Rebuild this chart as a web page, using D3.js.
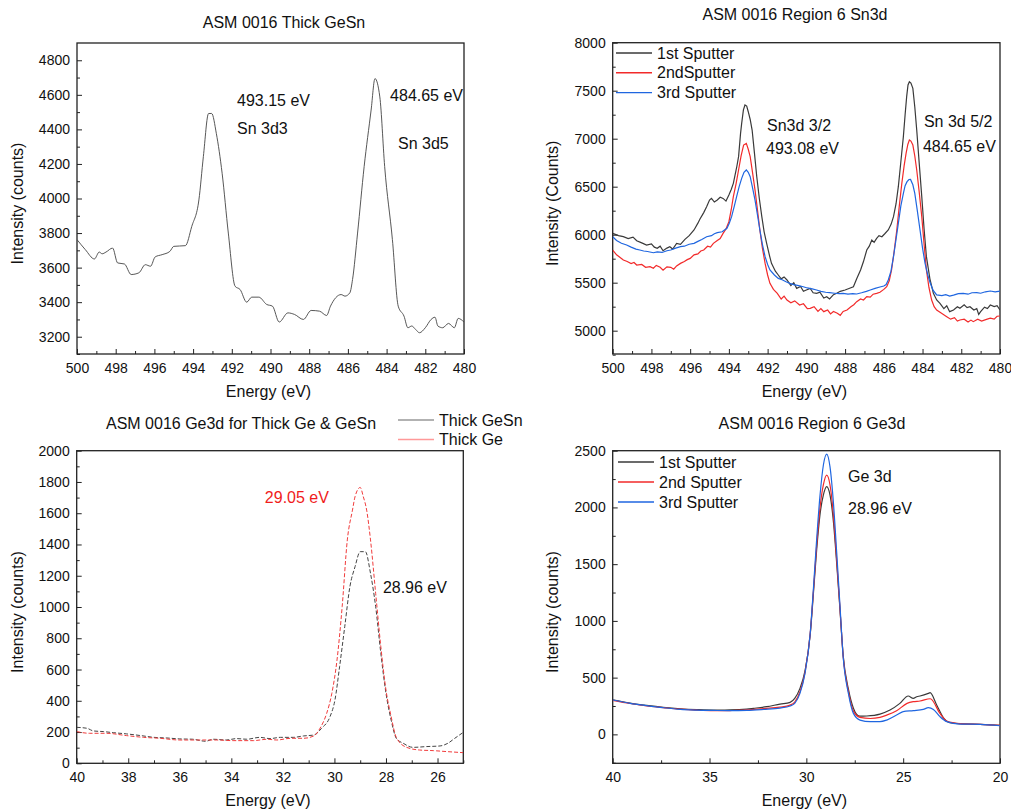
<!DOCTYPE html>
<html>
  <head>
    <title>ASM 0016 XPS spectra</title>
    <script src="https://d3js.org/d3.v7.min.js"></script>
    <style>
      body { margin: 0; background: #fff; }
      svg text { font-family: "Liberation Sans", Arial, sans-serif; }
      .tick text { font-size: 14px; }
      .axis path, .axis line { stroke: #222; }
    </style>
  </head>
  <body>
    <div id="chart"></div>
    <script>
      // ---- data: panel 1 (Thick GeSn, Sn3d) ----
      var gesnE = [500, 499.57, 499.1, 498.85, 498.7, 498.5, 498.16, 497.9, 497.55, 497.2, 496.8, 496.47, 496.2, 495.96, 495.6, 495.2, 495.0, 494.4, 494.07, 493.7, 493.47, 493.2, 493.04, 492.8, 492.5, 492.18, 491.83, 491.57, 491.23, 490.97, 490.6, 490.2, 489.9, 489.55, 489.1, 488.76, 488.3, 487.9, 487.47, 487.1, 486.9, 486.35, 486.15, 485.9, 485.76, 485.5, 485.16, 484.8, 484.6, 484.35, 484.1, 483.7, 483.4, 483.1, 482.9, 482.7, 482.5, 482.3, 482.0, 481.7, 481.5, 481.35, 481.1, 480.8, 480.5, 480.3, 480.0];
      var gesnI = [3762, 3704, 3650, 3690, 3680, 3690, 3713, 3627, 3621, 3560, 3570, 3617, 3608, 3662, 3675, 3694, 3723, 3727, 3838, 3992, 4242, 4492, 4492, 4377, 4146, 3800, 3492, 3473, 3400, 3429, 3429, 3387, 3377, 3285, 3338, 3329, 3300, 3352, 3348, 3323, 3377, 3444, 3435, 3454, 3531, 3800, 4185, 4512, 4694, 4588, 4185, 3762, 3377, 3319, 3252, 3262, 3242, 3223, 3252, 3300, 3313, 3262, 3252, 3277, 3252, 3306, 3285];

      // ---- data: panel 2 (Region 6 Sn3d) ----
      var sn1E = [500.0, 499.7, 499.45, 499.2, 498.95, 498.76, 498.5, 498.25, 498.0, 497.85, 497.7, 497.55, 497.4, 497.2, 497.05, 496.9, 496.7, 496.5, 496.27, 496.05, 495.8, 495.6, 495.5, 495.3, 495.15, 495.0, 494.9, 494.75, 494.6, 494.45, 494.3, 494.15, 494.0, 493.88, 493.77, 493.6, 493.5, 493.4, 493.34, 493.25, 493.17, 493.08, 493.0, 492.9, 492.8, 492.68, 492.56, 492.43, 492.3, 492.18, 492.05, 491.9, 491.8, 491.6, 491.45, 491.3, 491.15, 491.0, 490.8, 490.65, 490.5, 490.3, 490.15, 490.0, 489.8, 489.65, 489.47, 489.3, 489.1, 488.95, 488.8, 488.6, 488.43, 488.25, 488.0, 487.8, 487.57, 487.4, 487.2, 487.05, 486.88, 486.75, 486.62, 486.5, 486.37, 486.25, 486.1, 485.95, 485.77, 485.62, 485.5, 485.37, 485.25, 485.12, 484.99, 484.9, 484.82, 484.75, 484.68, 484.6, 484.5, 484.4, 484.3, 484.17, 484.04, 483.92, 483.8, 483.62, 483.44, 483.27, 483.1, 482.9, 482.75, 482.6, 482.4, 482.2, 482.07, 481.85, 481.7, 481.55, 481.35, 481.2, 481.1, 481.0, 480.8, 480.65, 480.5, 480.3, 480.15, 480.0];
      var sn1I = [6014, 5990, 5979, 5960, 5975, 5937, 5915, 5892, 5905, 5870, 5858, 5880, 5833, 5860, 5875, 5850, 5910, 5900, 5951, 5990, 6049, 6120, 6160, 6230, 6292, 6360, 6378, 6340, 6361, 6390, 6378, 6350, 6413, 6470, 6535, 6700, 6813, 7050, 7160, 7300, 7351, 7340, 7281, 7200, 7090, 6850, 6604, 6380, 6188, 6030, 5910, 5780, 5701, 5620, 5580, 5540, 5560, 5528, 5470, 5500, 5441, 5460, 5410, 5424, 5440, 5395, 5389, 5400, 5340, 5354, 5330, 5375, 5389, 5410, 5424, 5440, 5458, 5540, 5632, 5720, 5840, 5880, 5944, 5920, 5962, 5990, 5979, 6010, 6049, 6110, 6188, 6320, 6500, 6760, 7021, 7250, 7438, 7560, 7594, 7580, 7524, 7330, 7090, 6740, 6396, 6060, 5771, 5540, 5389, 5320, 5285, 5230, 5260, 5198, 5215, 5250, 5233, 5270, 5240, 5250, 5215, 5230, 5170, 5198, 5245, 5230, 5267, 5250, 5260, 5215];

      var sn2E = [500.0, 499.8, 499.6, 499.45, 499.25, 499.05, 498.9, 498.76, 498.5, 498.3, 498.07, 497.9, 497.75, 497.55, 497.4, 497.2, 497.0, 496.85, 496.7, 496.5, 496.3, 496.15, 496.0, 495.8, 495.6, 495.45, 495.3, 495.1, 494.95, 494.8, 494.6, 494.45, 494.3, 494.15, 494.0, 493.88, 493.77, 493.63, 493.5, 493.37, 493.24, 493.1, 493.0, 492.9, 492.78, 492.65, 492.52, 492.4, 492.27, 492.13, 492.0, 491.88, 491.7, 491.5, 491.3, 491.15, 491.0, 490.8, 490.6, 490.35, 490.15, 489.95, 489.8, 489.6, 489.4, 489.25, 489.1, 488.9, 488.75, 488.6, 488.4, 488.25, 488.1, 487.9, 487.7, 487.55, 487.4, 487.2, 487.05, 486.88, 486.7, 486.55, 486.37, 486.2, 486.0, 485.85, 485.72, 485.6, 485.47, 485.33, 485.2, 485.07, 484.95, 484.85, 484.76, 484.68, 484.6, 484.5, 484.4, 484.3, 484.17, 484.04, 483.92, 483.8, 483.67, 483.53, 483.4, 483.27, 483.0, 482.75, 482.55, 482.35, 482.2, 482.07, 481.85, 481.65, 481.5, 481.38, 481.15, 480.95, 480.7, 480.5, 480.3, 480.15, 480.0];
      var sn2I = [5840, 5790, 5760, 5736, 5720, 5700, 5710, 5684, 5690, 5660, 5667, 5650, 5680, 5660, 5630, 5665, 5660, 5640, 5675, 5701, 5720, 5740, 5753, 5790, 5800, 5830, 5840, 5880, 5870, 5910, 5940, 5960, 6014, 6060, 6135, 6260, 6396, 6530, 6674, 6820, 6934, 6951, 6890, 6813, 6650, 6465, 6250, 6049, 5860, 5701, 5580, 5493, 5430, 5389, 5330, 5360, 5319, 5290, 5310, 5267, 5280, 5230, 5233, 5250, 5200, 5230, 5198, 5215, 5175, 5200, 5181, 5160, 5200, 5215, 5250, 5270, 5302, 5330, 5320, 5354, 5350, 5380, 5389, 5400, 5430, 5458, 5520, 5632, 5820, 6049, 6300, 6535, 6720, 6847, 6940, 6986, 6975, 6934, 6820, 6674, 6440, 6188, 5900, 5632, 5450, 5319, 5250, 5215, 5180, 5146, 5120, 5135, 5100, 5111, 5120, 5090, 5110, 5094, 5120, 5100, 5118, 5130, 5120, 5150, 5153];

      var sn3E = [500.0, 499.8, 499.55, 499.28, 499.05, 498.8, 498.6, 498.4, 498.2, 497.9, 497.7, 497.45, 497.2, 497.0, 496.75, 496.5, 496.3, 496.05, 495.8, 495.6, 495.4, 495.15, 494.9, 494.75, 494.6, 494.35, 494.1, 493.98, 493.86, 493.73, 493.6, 493.47, 493.34, 493.22, 493.1, 493.0, 492.9, 492.78, 492.65, 492.52, 492.4, 492.27, 492.13, 492.0, 491.88, 491.65, 491.45, 491.25, 491.05, 490.85, 490.65, 490.4, 490.16, 489.95, 489.7, 489.47, 489.25, 489.0, 488.8, 488.55, 488.3, 488.1, 487.85, 487.6, 487.4, 487.15, 486.9, 486.7, 486.45, 486.2, 486.0, 485.88, 485.77, 485.63, 485.5, 485.37, 485.25, 485.12, 484.99, 484.9, 484.8, 484.7, 484.62, 484.5, 484.4, 484.27, 484.13, 484.0, 483.87, 483.73, 483.6, 483.45, 483.27, 483.0, 482.8, 482.6, 482.4, 482.15, 481.9, 481.65, 481.45, 481.2, 481.0, 480.75, 480.5, 480.25, 480.0];
      var sn3I = [5979, 5940, 5910, 5892, 5870, 5850, 5840, 5830, 5825, 5812, 5820, 5815, 5833, 5840, 5860, 5875, 5880, 5900, 5910, 5930, 5950, 5979, 5990, 6010, 6021, 6030, 6066, 6120, 6188, 6290, 6396, 6500, 6587, 6650, 6674, 6650, 6604, 6490, 6361, 6200, 6049, 5900, 5771, 5690, 5632, 5580, 5545, 5530, 5510, 5493, 5480, 5470, 5458, 5445, 5435, 5424, 5410, 5400, 5396, 5390, 5385, 5389, 5380, 5385, 5382, 5395, 5410, 5424, 5440, 5455, 5465, 5480, 5528, 5620, 5771, 5950, 6118, 6300, 6431, 6510, 6552, 6575, 6576, 6520, 6431, 6250, 6049, 5860, 5701, 5580, 5493, 5420, 5372, 5365, 5375, 5360, 5370, 5385, 5389, 5380, 5395, 5396, 5390, 5405, 5413, 5405, 5413];

      // ---- data: panel 3 (Ge3d, thick Ge vs GeSn) ----
      var geSnE = [40, 39.6, 39.35, 38.97, 38.58, 38.06, 37.5, 37.0, 36.5, 36.0, 35.5, 35.0, 34.7, 34.2, 33.8, 33.4, 32.9, 32.5, 32.1, 31.6, 31.2, 30.8, 30.5, 30.17, 29.98, 29.8, 29.6, 29.4, 29.2, 29.0, 28.8, 28.6, 28.4, 28.2, 28.0, 27.8, 27.6, 27.33, 26.95, 26.43, 25.9, 25.6, 25.33, 25.0];
      var geSnI = [230, 224, 207, 203, 196, 188, 177, 166, 162, 156, 154, 141, 154, 149, 158, 154, 166, 158, 166, 166, 175, 181, 224, 299, 405, 618, 874, 1130, 1258, 1354, 1354, 1215, 1002, 704, 448, 277, 160, 128, 102, 107, 111, 128, 160, 198];
      var geE = [40, 39.5, 38.84, 38.06, 37.4, 36.77, 36.0, 35.2, 34.57, 33.9, 33.15, 32.6, 32.24, 31.7, 31.2, 30.8, 30.56, 30.3, 30.1, 29.9, 29.7, 29.5, 29.3, 29.2, 29.0, 28.88, 28.75, 28.6, 28.4, 28.2, 28.0, 27.8, 27.6, 27.2, 26.7, 26.16, 25.65, 25.0];
      var geI = [203, 192, 192, 177, 166, 160, 149, 149, 149, 145, 145, 154, 149, 160, 160, 175, 224, 320, 448, 661, 1002, 1429, 1620, 1706, 1765, 1706, 1620, 1429, 1087, 746, 469, 299, 166, 102, 85, 81, 75, 68];

      // ---- data: panel 4 (Region 6 Ge3d) ----
      var ge1E = [40, 39.1, 38.25, 37.4, 36.5, 35.66, 34.8, 33.94, 33.08, 32.73, 32.05, 31.36, 30.84, 30.6, 30.33, 30.07, 29.8, 29.64, 29.47, 29.3, 29.12, 28.95, 28.78, 28.6, 28.43, 28.26, 28.1, 27.83, 27.57, 27.4, 27.23, 26.88, 26.2, 25.68, 25.17, 24.74, 24.48, 24.3, 24.13, 23.7, 23.61, 23.27, 22.9, 22.6, 22.06, 21.03, 20.0];
      var ge1I = [305, 275, 255, 238, 225, 218, 214, 215, 222, 229, 244, 267, 282, 317, 405, 560, 880, 1230, 1620, 1930, 2110, 2183, 2110, 1870, 1500, 1090, 700, 400, 230, 175, 160, 162, 179, 214, 273, 338, 317, 332, 338, 361, 367, 259, 141, 103, 94, 88, 80];
      var ge2E = [40, 39.1, 38.25, 37.4, 36.5, 35.66, 34.8, 33.94, 33.08, 32.2, 31.36, 30.84, 30.6, 30.33, 30.07, 29.8, 29.64, 29.47, 29.3, 29.12, 28.95, 28.78, 28.6, 28.43, 28.26, 28.1, 27.83, 27.57, 27.23, 26.7, 26.2, 25.85, 25.34, 24.8, 24.48, 24.13, 23.6, 23.1, 22.75, 22.06, 21.03, 20.0];
      var ge2I = [300, 272, 250, 236, 222, 213, 208, 210, 215, 228, 240, 258, 285, 375, 545, 890, 1250, 1660, 1990, 2200, 2285, 2200, 1930, 1530, 1100, 690, 380, 205, 150, 140, 150, 170, 208, 273, 288, 294, 314, 185, 118, 95, 88, 80];
      var ge3E = [40, 39.1, 38.25, 37.4, 36.5, 35.66, 34.8, 33.94, 33.08, 32.2, 31.36, 30.84, 30.6, 30.33, 30.07, 29.8, 29.64, 29.47, 29.3, 29.12, 28.95, 28.78, 28.6, 28.43, 28.26, 28.1, 27.83, 27.57, 27.23, 26.7, 26.2, 25.85, 25.34, 25.0, 24.48, 23.96, 23.7, 23.44, 23.1, 22.75, 22.06, 21.03, 20.0];
      var ge3I = [303, 273, 253, 235, 220, 214, 211, 209, 211, 220, 232, 250, 273, 361, 538, 890, 1272, 1713, 2095, 2374, 2470, 2359, 2036, 1595, 1125, 684, 361, 185, 126, 112, 112, 126, 170, 200, 209, 220, 235, 220, 156, 112, 91, 88, 76];

      var svg = d3.select("#chart").append("svg")
        .attr("width", 1011)
        .attr("height", 809);

      function zip(xs, ys) {
        return xs.map(function(x, i) { return { x: x, y: ys[i] }; });
      }

      // draw one framed panel
      function panel(cfg) {
        var b = cfg.box;
        var x = d3.scaleLinear().domain(cfg.xDomain).range([b[0], b[2]]);
        var y = d3.scaleLinear().domain(cfg.yDomain).range([b[3], b[1]]);
        var g = svg.append("g");

        // minor ticks
        g.append("g").attr("class", "axis").attr("transform", "translate(0," + b[3] + ")")
          .call(d3.axisBottom(x).tickValues(cfg.xMinor).tickSize(-3).tickFormat(""))
          .select(".domain").remove();
        g.append("g").attr("class", "axis").attr("transform", "translate(" + b[0] + ",0)")
          .call(d3.axisLeft(y).tickValues(cfg.yMinor).tickSize(-3).tickFormat(""))
          .select(".domain").remove();

        // major ticks
        g.append("g").attr("class", "axis").attr("transform", "translate(0," + b[3] + ")")
          .call(d3.axisBottom(x).tickValues(cfg.xTicks).tickSize(-5).tickPadding(9).tickFormat(d3.format("d")))
          .select(".domain").remove();
        g.append("g").attr("class", "axis").attr("transform", "translate(" + b[0] + ",0)")
          .call(d3.axisLeft(y).tickValues(cfg.yTicks).tickSize(-5).tickPadding(7).tickFormat(d3.format("d")))
          .select(".domain").remove();

        g.selectAll(".tick text").attr("fill", "#111");

        // frame
        g.append("rect")
          .attr("x", b[0]).attr("y", b[1])
          .attr("width", b[2] - b[0]).attr("height", b[3] - b[1])
          .attr("fill", "none").attr("stroke", "#222").attr("stroke-width", 1.3);

        var clipId = "clip" + cfg.id;
        svg.append("clipPath").attr("id", clipId).append("rect")
          .attr("x", b[0]).attr("y", b[1]).attr("width", b[2] - b[0]).attr("height", b[3] - b[1]);

        var line = d3.line()
          .x(function(d) { return x(d.x); })
          .y(function(d) { return y(d.y); })
          .curve(cfg.curve || d3.curveLinear);

        cfg.series.forEach(function(s) {
          g.append("path")
            .datum(zip(s.e, s.i))
            .attr("clip-path", "url(#" + clipId + ")")
            .attr("d", line)
            .attr("fill", "none")
            .attr("stroke", s.color)
            .attr("stroke-width", s.width || 1.2)
            .attr("stroke-dasharray", s.dash || null);
        });

        // title and axis labels
        g.append("text").attr("x", cfg.titleX).attr("y", cfg.titleY)
          .attr("text-anchor", "middle").attr("font-size", 16).attr("fill", "#111").text(cfg.title);
        g.append("text").attr("x", (b[0] + b[2]) / 2 - 2).attr("y", b[3] + 43)
          .attr("text-anchor", "middle").attr("font-size", 16).attr("fill", "#111").text("Energy (eV)");
        g.append("text")
          .attr("transform", "translate(" + cfg.yLabelX + "," + ((b[1] + b[3]) / 2 + 5) + ") rotate(-90)")
          .attr("text-anchor", "middle").attr("font-size", 16).attr("fill", "#111").text(cfg.yLabel);

        // annotations placed in data coordinates
        (cfg.notes || []).forEach(function(n) {
          g.append("text").attr("x", x(n.e)).attr("y", y(n.v) + 6)
            .attr("font-size", 16).attr("fill", n.color || "#111").text(n.text);
        });

        // legend
        if (cfg.legend) {
          var L = cfg.legend;
          L.items.forEach(function(it, k) {
            var yy = L.y + k * L.step;
            g.append("line").attr("x1", L.x).attr("x2", L.x + 36).attr("y1", yy).attr("y2", yy)
              .attr("stroke", it.color).attr("stroke-width", 1.4);
            g.append("text").attr("x", L.x + 41).attr("y", yy + 5.5)
              .attr("font-size", 16).attr("fill", "#111").text(it.label);
          });
        }
      }

      panel({
        id: 1, box: [77, 43, 464, 354],
        xDomain: [500, 480], yDomain: [3100, 4900],
        xTicks: d3.range(500, 479, -2), xMinor: d3.range(499, 480, -2),
        yTicks: d3.range(3200, 4801, 200), yMinor: d3.range(3100, 4900, 200),
        title: "ASM 0016 Thick GeSn", titleX: 284, titleY: 28,
        yLabel: "Intensity (counts)", yLabelX: 23,
        curve: d3.curveMonotoneX,
        series: [{ e: gesnE, i: gesnI, color: "#444", width: 0.9 }],
        notes: [
          { e: 491.73, v: 4570, text: "493.15 eV" },
          { e: 491.73, v: 4408, text: "Sn 3d3" },
          { e: 483.82, v: 4599, text: "484.65 eV" },
          { e: 483.41, v: 4321, text: "Sn 3d5" }
        ]
      });

      panel({
        id: 2, box: [612.7, 42.7, 1000, 354],
        xDomain: [500, 480], yDomain: [4757, 8000],
        xTicks: d3.range(500, 479, -2), xMinor: d3.range(499, 480, -2),
        yTicks: d3.range(5000, 8001, 500), yMinor: d3.range(4750, 8000, 500),
        title: "ASM 0016 Region 6  Sn3d", titleX: 795, titleY: 20,
        yLabel: "Intensity (Counts)", yLabelX: 558,
        series: [
          { e: sn1E, i: sn1I, color: "#3a3a3a" },
          { e: sn2E, i: sn2I, color: "#f22a2a" },
          { e: sn3E, i: sn3I, color: "#1f66e0" }
        ],
        notes: [
          { e: 492.03, v: 7143, text: "Sn3d 3/2" },
          { e: 492.08, v: 6903, text: "493.08 eV" },
          { e: 483.93, v: 7184, text: "Sn 3d 5/2" },
          { e: 483.98, v: 6924, text: "484.65 eV" }
        ],
        legend: { x: 616, y: 53, step: 19.8, items: [
          { label: "1st Sputter", color: "#3a3a3a" },
          { label: "2ndSputter", color: "#f22a2a" },
          { label: "3rd Sputter", color: "#1f66e0" }
        ] }
      });

      panel({
        id: 3, box: [76.7, 450.7, 463.3, 763.3],
        xDomain: [40, 25], yDomain: [0, 2000],
        xTicks: d3.range(40, 25, -2), xMinor: d3.range(39, 24, -2),
        yTicks: d3.range(0, 2001, 200), yMinor: d3.range(100, 2000, 200),
        title: "ASM 0016 Ge3d for Thick Ge & GeSn", titleX: 241, titleY: 429,
        yLabel: "Intensity (counts)", yLabelX: 23,
        curve: d3.curveMonotoneX,
        series: [
          { e: geSnE, i: geSnI, color: "#444", width: 1, dash: "4,2" },
          { e: geE, i: geI, color: "#f03c3c", width: 1, dash: "4,2" }
        ],
        notes: [
          { e: 32.7, v: 1704, text: "29.05 eV", color: "#f01c1c" },
          { e: 28.12, v: 1128, text: "28.96 eV" }
        ],
        legend: { x: 398, y: 420, step: 19.5, items: [
          { label: "Thick GeSn", color: "#999" },
          { label: "Thick Ge", color: "#f99" }
        ] }
      });

      panel({
        id: 4, box: [612.7, 450.7, 1000, 763.3],
        xDomain: [40, 20], yDomain: [-255, 2500],
        xTicks: [40, 35, 30, 25, 20], xMinor: [37.5, 32.5, 27.5, 22.5],
        yTicks: d3.range(0, 2501, 500), yMinor: d3.range(-250, 2500, 500),
        title: "ASM 0016 Region 6 Ge3d", titleX: 812, titleY: 429,
        yLabel: "Intensity (counts)", yLabelX: 558,
        curve: d3.curveMonotoneX,
        series: [
          { e: ge1E, i: ge1I, color: "#3a3a3a" },
          { e: ge2E, i: ge2I, color: "#f22a2a" },
          { e: ge3E, i: ge3I, color: "#1f66e0" }
        ],
        notes: [
          { e: 27.85, v: 2276, text: "Ge 3d" },
          { e: 27.85, v: 1994, text: "28.96 eV" }
        ],
        legend: { x: 618, y: 462, step: 20, items: [
          { label: "1st Sputter", color: "#3a3a3a" },
          { label: "2nd Sputter", color: "#f22a2a" },
          { label: "3rd Sputter", color: "#1f66e0" }
        ] }
      });
    </script>
  </body>
</html>
